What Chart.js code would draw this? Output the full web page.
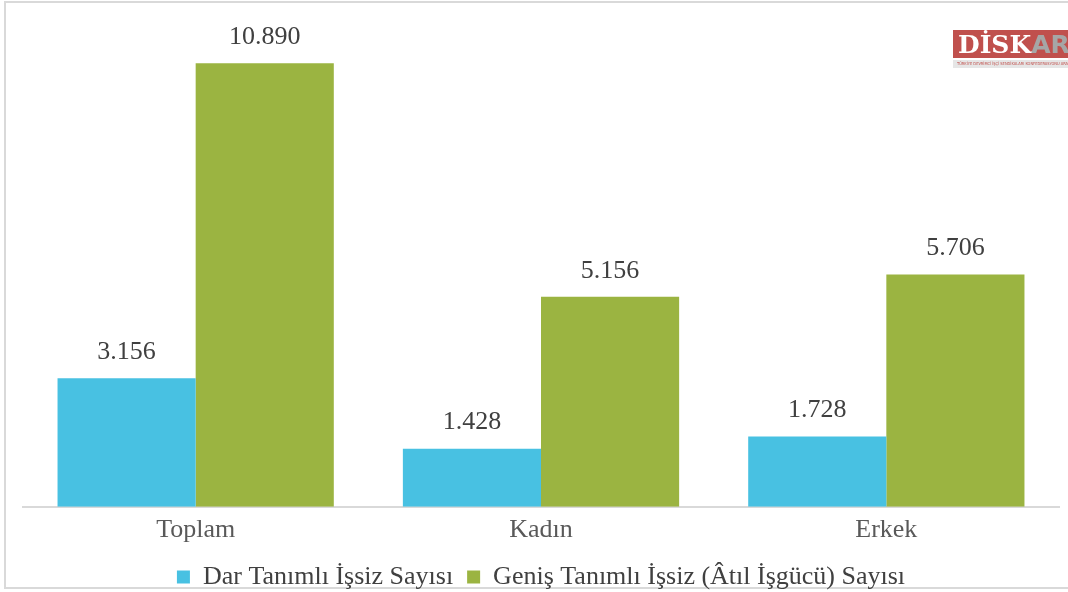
<!DOCTYPE html>
<html>
<head>
<meta charset="utf-8">
<script src="https://cdn.jsdelivr.net/npm/chart.js@4"></script>
<style>
  body { margin: 0; background: #fff; }
  #wrap { position: relative; width: 1068px; height: 592px; overflow: hidden; }
  #frame { position: absolute; left: 4px; top: 1px; width: 1200px; height: 588px; border: 2px solid #d9d9d9; box-sizing: border-box; }
  #myChart { position: absolute; left: 0; top: 0; }
  #logo { position: absolute; left: 953px; top: 30px; width: 130px; }
  #logo .top { background: #c0504d; height: 28px; line-height: 30px; font-family: "DejaVu Serif", serif; font-weight: bold; font-size: 25px; color: #fff; padding-left: 5px; }
  #logo .top span { color: #a6a6a6; font-family: "DejaVu Sans", sans-serif; }
  #logo .sub { background: #e6e6e6; height: 8px; margin-top: 2px; font-family: "DejaVu Sans Condensed", sans-serif; font-size: 4px; line-height: 8px; color: #c0504d; padding-left: 4px; white-space: nowrap; overflow: hidden; }
</style>
</head>
<body>
<div id="wrap">
  <div id="frame"></div>
  <canvas id="myChart" width="1068" height="600"></canvas>
  <div id="logo"><div class="top">DİSK<span>AR</span></div><div class="sub">TÜRKİYE DEVRİMCİ İŞÇİ SENDİKALARI KONFEDERASYONU ARAŞTIRMA MERKEZİ</div></div>
</div>
<script>
var categories = ['Toplam', 'Kadın', 'Erkek'];
var seriesNames = ['Dar Tanımlı İşsiz Sayısı', 'Geniş Tanımlı İşsiz (Âtıl İşgücü) Sayısı'];
var darValues = [3156, 1428, 1728];
var genisValues = [10890, 5156, 5706];

var serif = '"Liberation Serif", "DejaVu Serif", serif';

// 10890 -> "10.890"
function fmt(v) {
    return String(v).replace(/\B(?=(\d{3})+(?!\d))/g, '.');
}

var barLabels = {
    id: 'barLabels',
    afterDatasetsDraw: function (chart) {
        var ctx = chart.ctx;
        ctx.save();
        ctx.font = '26px ' + serif;
        ctx.fillStyle = '#404040';
        ctx.textAlign = 'center';
        ctx.textBaseline = 'bottom';
        chart.data.datasets.forEach(function (ds, i) {
            chart.getDatasetMeta(i).data.forEach(function (bar, j) {
                ctx.fillText(fmt(ds.data[j]), bar.x, bar.y - 13);
            });
        });
        ctx.restore();
    }
};

var ctx = document.getElementById('myChart').getContext('2d');
var chart = new Chart(ctx, {
    type: 'bar',
    data: {
        labels: categories,
        datasets: [{
            label: seriesNames[0],
            backgroundColor: '#48c1e2',
            data: darValues
        }, {
            label: seriesNames[1],
            backgroundColor: '#9bb441',
            data: genisValues
        }]
    },
    options: {
        responsive: false,
        animation: false,
        layout: { padding: { left: 23, right: 9, top: 18, bottom: 0 } },
        datasets: { bar: { categoryPercentage: 0.8, barPercentage: 1.0 } },
        scales: {
            x: {
                grid: { display: false },
                border: { color: '#d9d9d9', width: 2 },
                ticks: { color: '#595959', font: { family: serif, size: 26 }, padding: 0 },
                afterFit: function (scale) { scale.height += 4; }
            },
            y: { display: false, min: 0, max: 12000 }
        },
        plugins: {
            legend: {
                position: 'bottom',
                labels: {
                    color: '#404040',
                    font: { family: serif, size: 26 },
                    boxWidth: 13, boxHeight: 13, padding: 14
                }
            },
            tooltip: { enabled: false }
        }
    },
    plugins: [barLabels]
});
</script>
</body>
</html>
